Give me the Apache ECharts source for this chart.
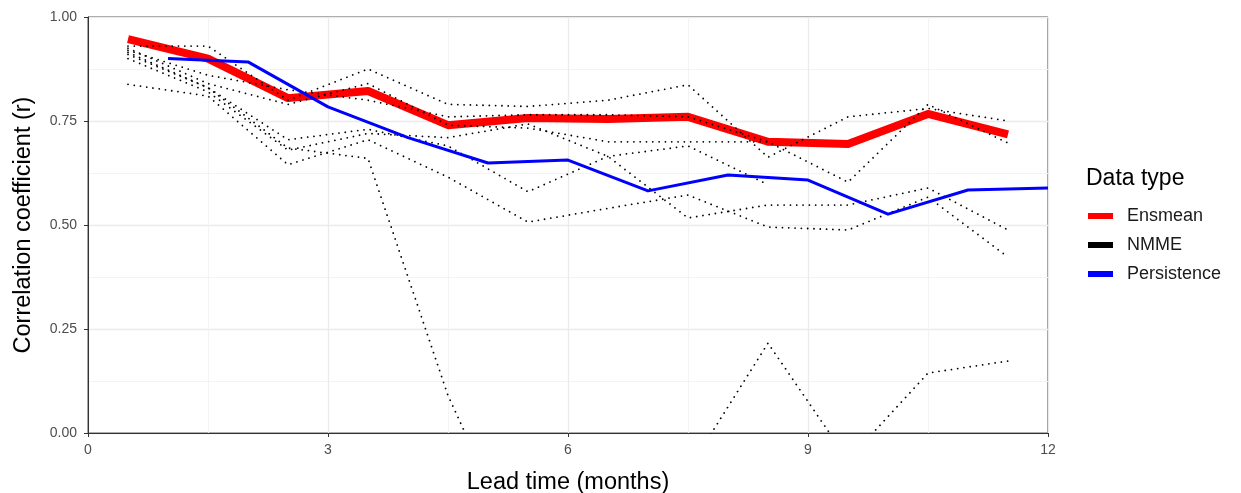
<!DOCTYPE html>
<html>
<head>
<meta charset="utf-8">
<script src="https://cdn.jsdelivr.net/npm/echarts@6/dist/echarts.min.js"></script>
<style>
html,body{margin:0;padding:0;background:#fff;}
#chart{width:1241px;height:493px;}
</style>
</head>
<body>
<div id="chart"></div>
<script>
// Lead times (months)
const leadsHalf = [0.5, 1.5, 2.5, 3.5, 4.5, 5.5, 6.5, 7.5, 8.5, 9.5, 10.5, 11.5];
const leadsInt = [1, 2, 3, 4, 5, 6, 7, 8, 9, 10, 11, 12];

// Ensemble mean correlation
const ensmean = [0.947, 0.900, 0.805, 0.822, 0.740, 0.757, 0.755, 0.760, 0.700, 0.695, 0.767, 0.718];

// Persistence correlation
const persistence = [0.900, 0.892, 0.784, 0.710, 0.649, 0.656, 0.582, 0.620, 0.608, 0.526, 0.584, 0.589];

// Individual NMME models
const nmmeA = [0.930, 0.930, 0.800, 0.875, 0.790, 0.785, 0.800, 0.837, 0.663, 0.760, 0.780, 0.750];
const nmmeB = [0.925, 0.840, 0.790, 0.840, 0.740, 0.733, 0.700, 0.700, 0.700, 0.603, 0.790, 0.697];
const nmmeC = [0.920, 0.860, 0.825, 0.800, 0.760, 0.765, 0.765, 0.760, 0.700, null, null, null];
const nmmeD = [0.910, 0.830, 0.705, 0.730, 0.690, 0.580, 0.665, 0.690, 0.597, null, null, null];
const nmmeE = [0.900, 0.820, 0.680, 0.720, 0.710, 0.743, 0.665, 0.517, 0.548, 0.548, 0.589, 0.488];
const nmmeF = [0.838, 0.810, 0.645, 0.705, 0.615, 0.507, 0.540, 0.572, 0.495, 0.488, 0.567, 0.423];
const nmmeG = [0.915, 0.830, 0.685, 0.660, 0.090, -0.330, -0.300, -0.090, 0.216, -0.065, 0.144, 0.173];
const nmmeModels = [nmmeA, nmmeB, nmmeC, nmmeD, nmmeE, nmmeF, nmmeG];

const xTicks = [0, 3, 6, 9, 12];
const yTicks = [0, 0.25, 0.5, 0.75, 1];

const pair = (xs, ys) => xs.map((x, i) => [x, ys[i]]);

const FONT = "'Liberation Sans', Arial, sans-serif";

const series = [];
series.push({
  name: 'Ensmean', type: 'line', data: pair(leadsHalf, ensmean),
  showSymbol: false, symbol: 'none', clip: true,
  lineStyle: {color: '#FF0000', width: 8, cap: 'butt', join: 'round'},
  itemStyle: {color: '#FF0000'}, z: 2
});
nmmeModels.forEach(m => {
  series.push({
    name: 'NMME', type: 'line', data: pair(leadsHalf, m),
    showSymbol: false, symbol: 'none', clip: true, connectNulls: false,
    lineStyle: {color: '#000000', width: 1.8, type: [0.01, 6.3], cap: 'round'},
    itemStyle: {color: '#000000'}, z: 3
  });
});
series.push({
  name: 'Persistence', type: 'line', data: pair(leadsInt, persistence),
  showSymbol: false, symbol: 'none', clip: true,
  lineStyle: {color: '#0000FF', width: 3, join: 'round'},
  itemStyle: {color: '#0000FF'}, z: 4
});

const chart = echarts.init(document.getElementById('chart'), null, {renderer: 'canvas'});
chart.setOption({
  animation: false,
  backgroundColor: '#FFFFFF',
  textStyle: {fontFamily: FONT},
  title: {
    text: 'Data type', left: 1081, top: 162,
    textStyle: {fontFamily: FONT, fontSize: 23, fontWeight: 'normal', color: '#000'}
  },
  legend: {
    orient: 'vertical', left: 1083, top: 201,
    icon: 'rect', itemWidth: 25, itemHeight: 6, itemGap: 9,
    textStyle: {fontFamily: FONT, fontSize: 18, color: '#1A1A1A', padding: [0, 0, 0, 9], lineHeight: 20},
    data: [
      {name: 'Ensmean', itemStyle: {color: '#FF0000'}},
      {name: 'NMME', itemStyle: {color: '#000000'}},
      {name: 'Persistence', itemStyle: {color: '#0000FF'}}
    ]
  },
  grid: {
    left: 88, top: 17, width: 960, height: 416,
    outerBoundsMode: 'none', containLabel: false,
    show: true, borderColor: '#333333', borderWidth: 1, backgroundColor: 'transparent'
  },
  xAxis: {
    type: 'value', min: xTicks[0], max: xTicks[xTicks.length - 1], interval: 3,
    name: 'Lead time (months)', nameLocation: 'middle', nameGap: 38,
    nameTextStyle: {fontFamily: FONT, fontSize: 23.5, color: '#000'},
    axisLine: {show: true, lineStyle: {color: '#333333', width: 1}},
    axisTick: {show: true, length: 4, lineStyle: {color: '#333333'}},
    axisLabel: {fontFamily: FONT, fontSize: 14, color: '#4D4D4D', margin: 10},
    splitLine: {show: true, lineStyle: {color: '#EBEBEB', width: 1.3}},
    minorTick: {show: false, splitNumber: 2},
    minorSplitLine: {show: true, lineStyle: {color: '#F3F3F3', width: 1}}
  },
  yAxis: {
    type: 'value', min: yTicks[0], max: yTicks[yTicks.length - 1], interval: 0.25,
    name: 'Correlation coefficient (r)', nameLocation: 'middle', nameGap: 52,
    nameTextStyle: {fontFamily: FONT, fontSize: 23.5, color: '#000'},
    axisLine: {show: true, lineStyle: {color: '#333333', width: 1}},
    axisTick: {show: true, length: 4, lineStyle: {color: '#333333'}},
    axisLabel: {fontFamily: FONT, fontSize: 14, color: '#4D4D4D', margin: 11,
      formatter: v => v.toFixed(2)},
    splitLine: {show: true, lineStyle: {color: '#EBEBEB', width: 1.3}},
    minorTick: {show: false, splitNumber: 2},
    minorSplitLine: {show: true, lineStyle: {color: '#F3F3F3', width: 1}}
  },
  series: series
});
</script>
</body>
</html>
